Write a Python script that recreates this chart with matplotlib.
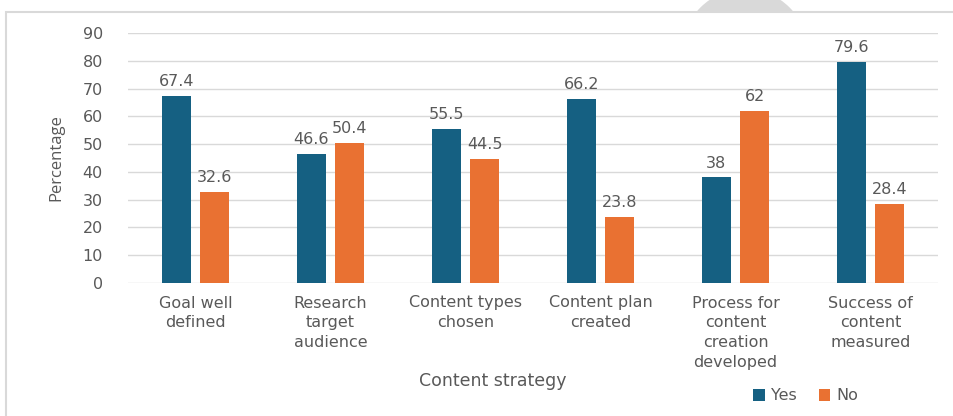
import matplotlib
matplotlib.use("Agg")
import numpy as np
import matplotlib.pyplot as plt
from matplotlib.patches import Ellipse, Rectangle

categories = [
    "Goal well\ndefined",
    "Research\ntarget\naudience",
    "Content types\nchosen",
    "Content plan\ncreated",
    "Process for\ncontent\ncreation\ndeveloped",
    "Success of\ncontent\nmeasured",
]
yes_vals = [67.4, 46.6, 55.5, 66.2, 38, 79.6]
no_vals = [32.6, 50.4, 44.5, 23.8, 62, 28.4]

YES_COLOR = "#156082"
NO_COLOR = "#E97132"
TEXT = "#595959"
GRID = "#d9d9d9"

plt.rcParams["font.family"] = ["DejaVu Sans"]

W, H = 954, 416
fig = plt.figure(figsize=(W / 100, H / 100), dpi=100)

# grey disc peeking out above the chart frame, then the frame itself
fig.patches.append(Ellipse((745 / W, 1 - 52 / H), 2 * 63 / W, 2 * 63 / H, transform=fig.transFigure,
                           facecolor=GRID, edgecolor="none", zorder=0))
fig.patches.append(Rectangle((6 / W, -0.1), 1.1, 1 - 12 / H + 0.1, transform=fig.transFigure,
                             facecolor="white", edgecolor=GRID, linewidth=1.5, zorder=1))

ax = fig.add_axes([128 / W, 133 / H, 810 / W, 250 / H])
ax.set_zorder(2)
ax.patch.set_alpha(0)

x = np.arange(len(categories))
w = 0.215
gap = 0.07
off = (w + gap) / 2
b1 = ax.bar(x - off, yes_vals, w, color=YES_COLOR, label="Yes", zorder=3)
b2 = ax.bar(x + off, no_vals, w, color=NO_COLOR, label="No", zorder=3)

for bars in (b1, b2):
    for rect in bars:
        v = rect.get_height()
        ax.annotate(f"{v:g}", (rect.get_x() + rect.get_width() / 2, v),
                    xytext=(0, 5), textcoords="offset points",
                    ha="center", va="bottom", fontsize=11.5, color=TEXT)

ax.set_xlim(-0.5, len(categories) - 0.5)
ax.set_ylim(0, 90)
ax.set_yticks(range(0, 91, 10))
ax.yaxis.grid(True, color=GRID, linewidth=1)
ax.set_axisbelow(True)
for s in ax.spines.values():
    s.set_visible(False)
ax.tick_params(length=0, colors=TEXT, labelsize=11.5)
ax.tick_params(axis="y", pad=18)
ax.tick_params(axis="x", pad=9)
ax.set_xticks(x)
ax.set_xticklabels(categories, linespacing=1.4)

ax.set_ylabel("Percentage", color=TEXT, fontsize=12,
              family=["Open Sans", "DejaVu Sans"], labelpad=13)
fig.text(493 / W, 1 - 381 / H, "Content strategy", ha="center", va="center",
         fontsize=12.5, color=TEXT)

fig.legend(handles=[b1, b2], labels=["Yes", "No"], loc="center",
           bbox_to_anchor=(806 / W, 1 - 396 / H), ncol=2, frameon=False,
           handlelength=0.7, handleheight=0.7, handletextpad=0.4, columnspacing=1.4,
           fontsize=11.5, labelcolor=TEXT)

fig.savefig("out.png", dpi=100, facecolor="white")
